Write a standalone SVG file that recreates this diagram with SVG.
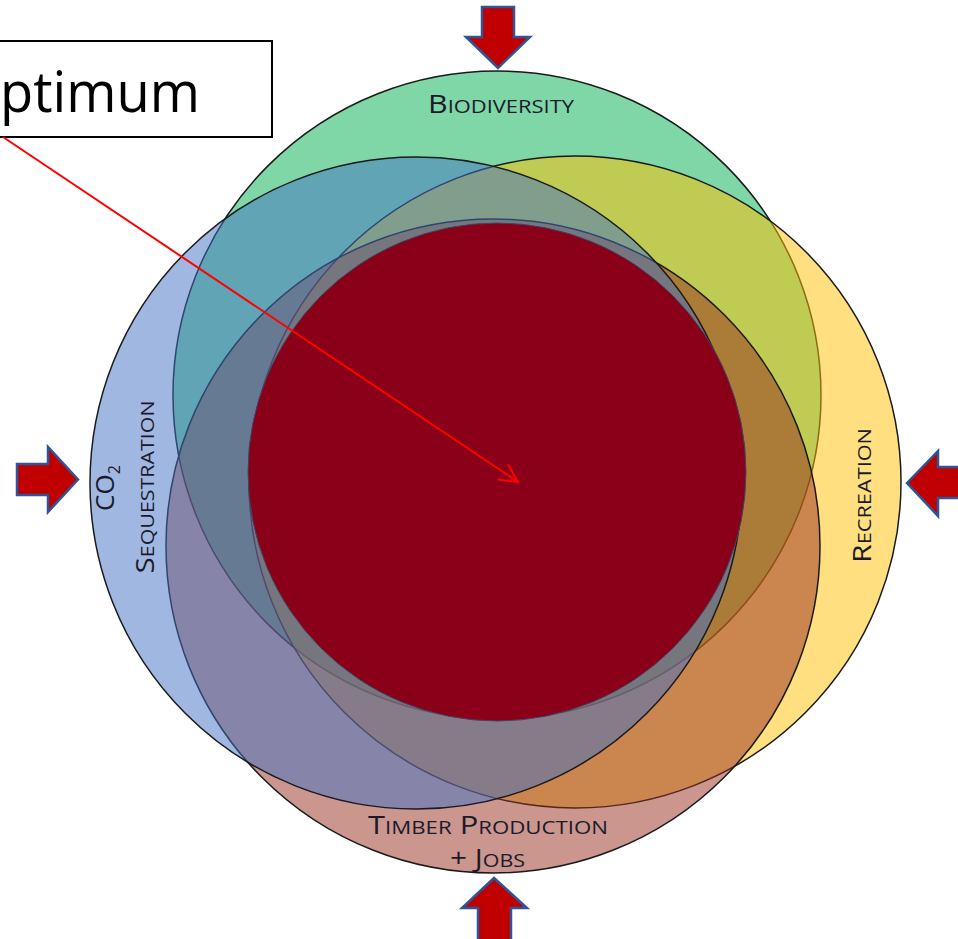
<svg xmlns="http://www.w3.org/2000/svg" width="958" height="939" viewBox="0 0 958 939">
<style>
.c{stroke:#1a1a1a;stroke-width:1.5;fill-opacity:0.5}
.arr{fill:#C00000;stroke:#2F5597;stroke-width:2.5;stroke-linejoin:miter}
.lbl{font-family:"Open Sans","Liberation Sans",sans-serif;font-variant:small-caps;font-size:25px;fill:#1c1a2a}
</style>
<defs>
<marker id="oa" viewBox="0 0 22 22" refX="21" refY="11" markerWidth="22" markerHeight="22" markerUnits="userSpaceOnUse" orient="auto">
<path d="M3,2 L21,11 L3,20" fill="none" stroke="#FF0000" stroke-width="2"/>
</marker>
</defs>
<rect width="958" height="939" fill="#ffffff"/>
<g id="circles">
<g id="biodiversity"><circle class="c" cx="497" cy="395" r="324" fill="#00B050"/></g>
<g id="recreation"><circle class="c" cx="575" cy="482" r="326" fill="#FFC000"/></g>
<g id="timber"><circle class="c" cx="493" cy="546" r="327" fill="#962E1E"/></g>
<g id="co2"><circle class="c" cx="416" cy="483" r="326" fill="#4171C4"/></g>
<g id="optimum-core"><circle cx="497" cy="472" r="249" fill="#8B0019" stroke="#3a4666" stroke-width="1"/></g>
</g>
<g id="labels">
<text class="lbl" x="501" y="113" text-anchor="middle" textLength="146" lengthAdjust="spacingAndGlyphs">Biodiversity</text>
<text class="lbl" x="488" y="834" text-anchor="middle" textLength="240" lengthAdjust="spacingAndGlyphs">Timber Production</text>
<text class="lbl" x="487.5" y="867" text-anchor="middle" textLength="75" lengthAdjust="spacingAndGlyphs">+ Jobs</text>
<text class="lbl" transform="translate(871,495.5) rotate(-90)" x="0" y="0" text-anchor="middle" textLength="135" lengthAdjust="spacingAndGlyphs">Recreation</text>
<text class="lbl" transform="translate(154,487) rotate(-90)" x="0" y="0" text-anchor="middle" textLength="173" lengthAdjust="spacingAndGlyphs">Sequestration</text>
<text class="lbl" transform="translate(114,488) rotate(-90)" x="0" y="0" text-anchor="middle" style="font-variant:normal;font-size:26px">CO<tspan font-size="16" dy="6">2</tspan></text>
</g>
<g id="arrows">
<polygon class="arr" points="482,7 514,7 514,37 530,37 498,68 466,37 482,37"/>
<polygon class="arr" points="17,464 48,464 48,447 78,479.5 48,512 48,495 17,495"/>
<polygon class="arr" points="907,483 938,451 938,467 966,467 966,498 938,498 938,516"/>
<polygon class="arr" points="494,878 527,908 511,908 511,946 478,946 478,908 462,908"/>
</g>
<g id="callout">
<rect x="-5" y="41" width="277" height="96" fill="#ffffff" stroke="#000000" stroke-width="2"/>
<text x="0" y="112" font-family="'Open Sans','Liberation Sans',sans-serif" font-size="56" fill="#000000" textLength="200" lengthAdjust="spacingAndGlyphs">ptimum</text>
</g>
<g id="connectors">
<line x1="3" y1="137" x2="518" y2="482" stroke="#FF0000" stroke-width="2" marker-end="url(#oa)"/>
</g>
</svg>
